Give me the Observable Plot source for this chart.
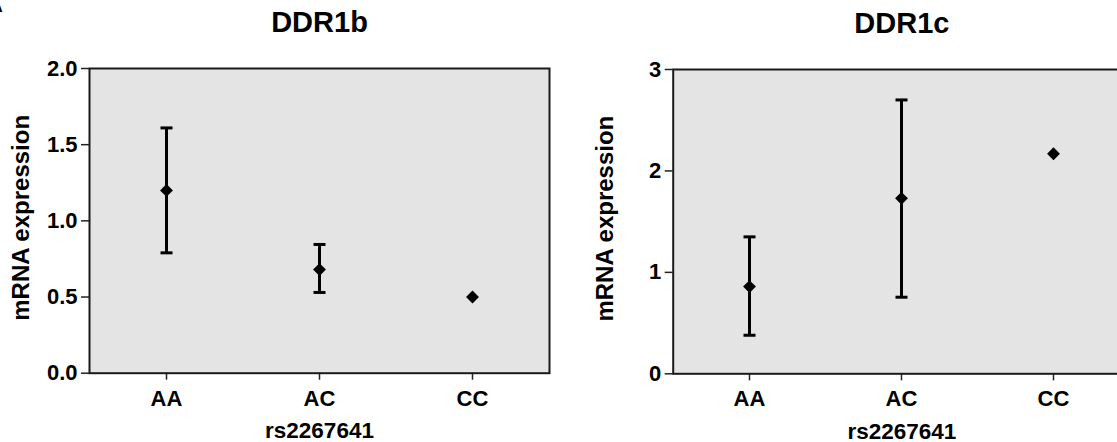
<!DOCTYPE html>
<html>
<head>
<meta charset="utf-8">
<script src="https://cdn.jsdelivr.net/npm/d3@7"></script>
<script src="https://cdn.jsdelivr.net/npm/@observablehq/plot@0.6"></script>
<style>
  html, body { margin: 0; padding: 0; background: white; overflow: hidden; }
  #wrap { position: relative; width: 1117px; height: 442px; overflow: hidden; font-family: "Liberation Sans", Arial, sans-serif; }
  #left, #right { position: absolute; top: 0; width: 560px; height: 442px; }
  #left { left: 0; }
  #right { left: 580px; }
  #left svg, #right svg { max-width: none !important; }
  #panel { position: absolute; left: -13px; top: -8px; font-size: 22px; font-weight: bold; }
</style>
</head>
<body>
<div id="wrap">
  <div id="left"></div>
  <div id="right"></div>
  <div id="panel">A</div>
</div>
<script>
// ---- data ----
const genotypes = ["AA", "AC", "CC"];
const ddr1bMean = [1.20, 0.68, 0.50];
const ddr1bLow  = [0.79, 0.53, null];
const ddr1bHigh = [1.61, 0.845, null];
const ddr1cMean = [0.86, 1.73, 2.17];
const ddr1cLow  = [0.38, 0.755, null];
const ddr1cHigh = [1.35, 2.70, null];
const ddr1bTicks = [0, 0.5, 1.0, 1.5, 2.0];
const ddr1cTicks = [0, 1, 2, 3];
const titles = ["DDR1b", "DDR1c"];
const xLabel = "rs2267641";
const yLabel = "mRNA expression";

const font = "'Liberation Sans', Arial, Helvetica, sans-serif";

// horizontal cap symbol for error bars (half-width = r)
const capSymbol = {
  draw(context, size) {
    const w = Math.sqrt(size / Math.PI);
    context.moveTo(-w, 0);
    context.lineTo(w, 0);
  }
};

function rows(mean, low, high) {
  return genotypes.map((g, i) => ({g, mean: mean[i], low: low[i], high: high[i]}));
}

function panel({data, title, yDomain, yTicks, yFormat, marginLeft, marginTop, marginBottom, marginRight}) {
  const bars = data.filter(d => d.low != null && d.high != null);
  return Plot.plot({
    width: 560,
    height: 442,
    marginLeft, marginRight, marginTop, marginBottom,
    style: {fontFamily: font, fontWeight: "bold", fontSize: "22px", color: "black", background: "white", overflow: "visible", maxWidth: "none"},
    x: {type: "point", domain: genotypes, padding: 0.5, label: null},
    y: {domain: yDomain, label: null},
    marks: [
      Plot.frame({fill: "#e4e4e4"}),
      Plot.axisY({ticks: yTicks, tickFormat: yFormat, tickSize: 8, tickPadding: 4, fontSize: 22, stroke: "#222", strokeWidth: 1.5, label: null}),
      Plot.axisX({tickSize: 7, tickPadding: 10, fontSize: 22, stroke: "#222", strokeWidth: 1.5, label: null}),
      Plot.ruleX(bars, {x: "g", y1: "low", y2: "high", stroke: "black", strokeWidth: 3}),
      Plot.dot(bars, {x: "g", y: "low", symbol: capSymbol, r: 6, stroke: "black", fill: "none", strokeWidth: 3}),
      Plot.dot(bars, {x: "g", y: "high", symbol: capSymbol, r: 6, stroke: "black", fill: "none", strokeWidth: 3}),
      Plot.dot(data, {x: "g", y: "mean", symbol: "diamond2", r: 5.8, fill: "black", stroke: "none"}),
      Plot.frame({stroke: "#1a1a1a", strokeWidth: 2}),
      Plot.text([title], {frameAnchor: "top", textAnchor: "middle", lineAnchor: "middle", dy: -46, fontSize: 29, fontWeight: "bold", fill: "black"}),
      Plot.text([yLabel], {frameAnchor: "left", textAnchor: "middle", lineAnchor: "middle", rotate: -90, dx: -68, dy: -3, fontSize: 24, fontWeight: "bold", fill: "black"}),
      Plot.text([xLabel], {frameAnchor: "bottom", textAnchor: "middle", lineAnchor: "middle", dy: 57.5, fontSize: 22.5, fontWeight: "bold", fill: "black"})
    ]
  });
}

document.getElementById("left").appendChild(panel({
  data: rows(ddr1bMean, ddr1bLow, ddr1bHigh),
  title: titles[0],
  yDomain: [0, 2], yTicks: ddr1bTicks, yFormat: d3.format(".1f"),
  marginLeft: 89, marginRight: 11, marginTop: 68, marginBottom: 69.3
}));

document.getElementById("right").appendChild(panel({
  data: rows(ddr1cMean, ddr1cLow, ddr1cHigh),
  title: titles[1],
  yDomain: [0, 3], yTicks: ddr1cTicks, yFormat: d3.format("d"),
  marginLeft: 92.7, marginRight: 10, marginTop: 69, marginBottom: 68.7
}));
</script>
</body>
</html>
